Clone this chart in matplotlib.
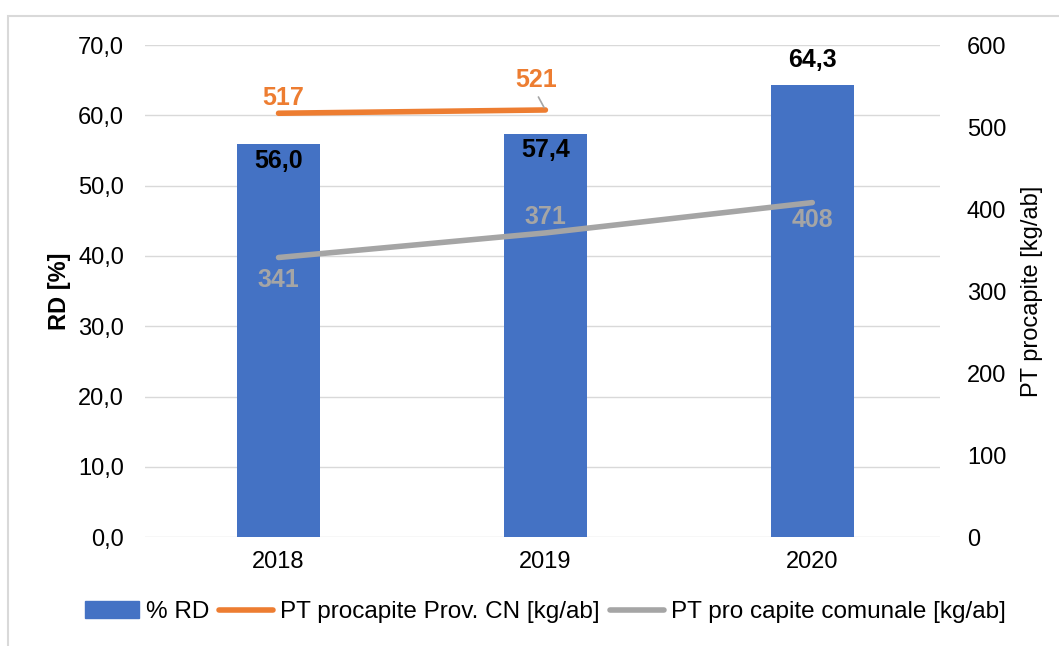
import matplotlib
matplotlib.use("Agg")
import matplotlib.pyplot as plt
from matplotlib.ticker import FuncFormatter, MultipleLocator
from matplotlib.patches import Rectangle
from matplotlib.lines import Line2D

plt.rcParams['font.family'] = ['Liberation Sans', 'DejaVu Sans']

years = ["2018", "2019", "2020"]
rd_pct = [56.0, 57.4, 64.3]
pt_prov = [517, 521]
pt_com = [341, 371, 408]

c_bar = "#4472C4"
c_or = "#ED7D31"
c_gr = "#A5A5A5"

fig = plt.figure(figsize=(10.59, 6.46), dpi=100)
ax = fig.add_axes([0.137, 0.1687, 0.751, 0.7613])
ax2 = ax.twinx()
ax.set_zorder(1)
ax2.set_zorder(2)
ax.patch.set_visible(False)

x = list(range(len(years)))
ax.bar(x, rd_pct, width=0.31, color=c_bar, zorder=2)
ax.set_xlim(-0.5, 2.48)
ax.set_ylim(0, 70)
ax.yaxis.set_major_locator(MultipleLocator(10))
ax.yaxis.set_major_formatter(FuncFormatter(lambda v, p: f"{v:.1f}".replace(".", ",")))
ax.grid(axis='y', color="#D9D9D9", linewidth=1, zorder=0)
ax.set_axisbelow(True)
ax.set_xticks(x)
ax.set_xticklabels(years)

ax2.set_ylim(0, 600)
ax2.yaxis.set_major_locator(MultipleLocator(100))
ax2.plot(x[:len(pt_prov)], pt_prov, color=c_or, linewidth=4, solid_capstyle='round')
ax2.plot(x, pt_com, color=c_gr, linewidth=4, solid_capstyle='round')

for a in (ax, ax2):
    for s in a.spines.values():
        s.set_visible(False)
    a.tick_params(length=0, labelsize=17, colors='black')
ax.tick_params(axis='y', pad=15)
ax2.tick_params(axis='y', pad=19)
ax.tick_params(axis='x', pad=10)

ax.set_ylabel("RD [%]", fontsize=17, fontweight='bold')
ax.yaxis.set_label_coords(-0.093, 0.5)
ax2.set_ylabel("PT procapite [kg/ab]", fontsize=17)
ax2.yaxis.set_label_coords(1.101, 0.5)

# bar labels (px offsets relative to bar top)
bar_offs = [-17, -16, 25]
for xi, v, o in zip(x, rd_pct, bar_offs):
    ax.annotate(f"{v:.1f}".replace(".", ","), (xi, v), xytext=(0, o), textcoords='offset pixels',
                ha='center', va='center', fontsize=18, fontweight='bold', color='black', zorder=5)

prov_offs = [(5, 15), (-9, 30)]
for xi, v, (dx, dy) in zip(x, pt_prov, prov_offs):
    ax2.annotate(str(v), (xi, v), xytext=(dx, dy), textcoords='offset pixels',
                 ha='center', va='center', fontsize=18, fontweight='bold', color=c_or)
# leader line for 521
ax2.annotate("", (1, pt_prov[1]), xytext=(-7, 13), textcoords='offset pixels',
             arrowprops=dict(arrowstyle='-', color=c_gr, lw=1.2, shrinkA=0, shrinkB=2))

com_offs = [-22, 16, -17]
for xi, v, o in zip(x, pt_com, com_offs):
    ax2.annotate(str(v), (xi, v), xytext=(0, o), textcoords='offset pixels',
                 ha='center', va='center', fontsize=18, fontweight='bold', color=c_gr)

handles = [Rectangle((0, 0), 1, 1, color=c_bar),
           Line2D([0], [0], color=c_or, linewidth=4, solid_capstyle='round'),
           Line2D([0], [0], color=c_gr, linewidth=4, solid_capstyle='round')]
labels = ["% RD", "PT procapite Prov. CN [kg/ab]", "PT pro capite comunale [kg/ab]"]
fig.legend(handles, labels, loc='center', bbox_to_anchor=(0.515, 0.052), ncol=3, frameon=False,
           fontsize=17.5, handlelength=2.2, handletextpad=0.3, columnspacing=0.42)

# outer border
fig.add_artist(Rectangle((8 / 1059, -0.1), 1.2, 1 - 16 / 646 + 0.1, transform=fig.transFigure,
                         fill=False, edgecolor="#D9D9D9", linewidth=1.5))

fig.savefig("out.png", dpi=100)
